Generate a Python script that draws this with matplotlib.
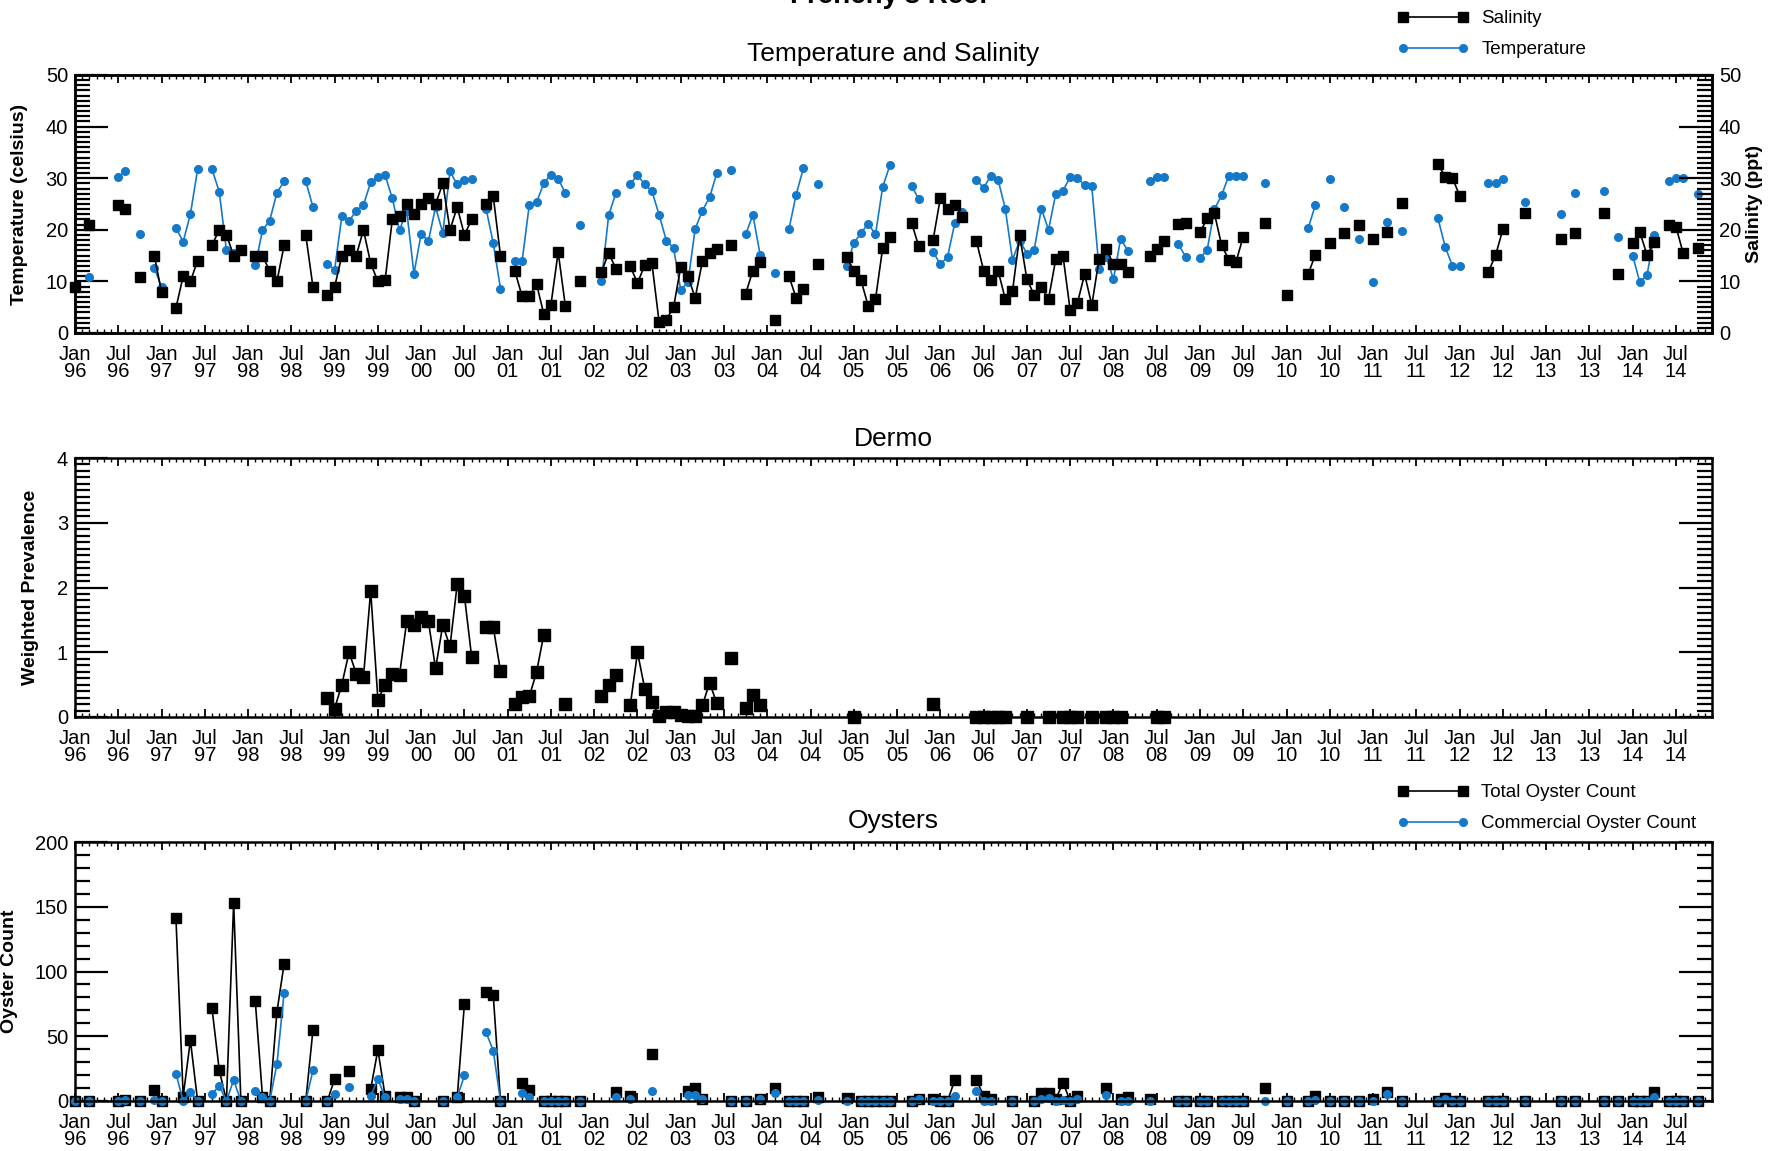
import numpy as np
import matplotlib
matplotlib.use("Agg")
import matplotlib.pyplot as plt
from matplotlib.ticker import FixedLocator, MultipleLocator

plt.rcParams["font.family"] = ["Liberation Sans", "DejaVu Sans"]

BLUE = "#1479c9"

# x values are months since Jan 1996
wq_month = [0, 2, 6, 7, 9, 11, 12, 14, 15, 16, 17, 19, 20, 21, 22, 23, 25, 26, 27, 28, 29,
            32, 33, 35, 36, 37, 38, 39, 40, 41, 42, 43, 44, 45, 46, 47, 48, 49, 50, 51, 52,
            53, 54, 55, 57, 58, 59, 61, 62, 63, 64, 65, 66, 67, 68, 70, 73, 74, 75, 77, 78,
            79, 80, 81, 82, 83, 84, 85, 86, 87, 88, 89, 91, 93, 94, 95, 97, 99, 100, 101, 103,
            107, 108, 109, 110, 111, 112, 113, 116, 117, 119, 120, 121, 122, 123, 125, 126,
            127, 128, 129, 130, 131, 132, 133, 134, 135, 136, 137, 138, 139, 140, 141, 142,
            143, 144, 145, 146, 149, 150, 151, 153, 154, 156, 157, 158, 159, 160, 161, 162,
            165, 168, 171, 172, 174, 176, 178, 180, 182, 184, 189, 190, 191, 192, 196, 197,
            198, 201, 206, 208, 212, 214, 216, 217, 218, 219, 221, 222, 223, 225]
salinity = [8.9, 21, 24.9, 24, 10.8, 15, 7.9, 4.9, 11, 10, 14, 17, 20, 19, 15, 16, 15, 15, 12, 10, 17,
            19, 8.9, 7.3, 8.9, 15, 16, 15, 20, 13.5, 10, 10.2, 22, 22.6, 25, 23, 25, 26.2, 25, 29, 20,
            24.4, 19, 22, 25, 26.5, 15, 12, 7.1, 7.1, 9.5, 3.7, 5.5, 15.7, 5.2, 10, 11.8, 15.5, 12.5, 12.9, 9.7,
            13.1, 13.5, 2.1, 2.6, 5, 12.8, 11, 6.8, 13.9, 15.5, 16.3, 17, 7.6, 12.1, 13.7, 2.5, 11, 6.8, 8.5, 13.4,
            14.7, 12.1, 10.2, 5.2, 6.5, 16.5, 18.6, 21.4, 16.8, 18.1, 26.2, 24, 24.9, 22.5, 17.8, 12.1,
            10.2, 12.1, 6.6, 8.1, 18.9, 10.4, 7.4, 8.9, 6.6, 14.3, 15, 4.4, 5.8, 11.4, 5.4, 14.3,
            16.3, 13.3, 13.3, 11.8, 15, 16.3, 17.9, 21.2, 21.4, 19.5, 22.2, 23.2, 17, 14.2, 13.8, 18.7,
            21.3, 7.4, 11.4, 15.2, 17.4, 19.4, 20.9, 18.2, 19.6, 25.2, 32.7, 30.3, 30.1, 26.6, 11.9, 15.1,
            20.1, 23.2, 18.3, 19.4, 23.2, 11.4, 17.5, 19.5, 15.1, 17.7, 21, 20.6, 15.5, 16.5]
temperature = [np.nan, 10.8, 30.3, 31.3, 19.2, 12.6, 8.9, 20.4, 17.7, 23, 31.7, 31.7, 27.4, 16, 15.5, 16.3,
               13.1, 19.9, 21.8, 27.2, 29.4,
               29.4, 24.4, 13.4, 12.3, 22.6, 21.7, 23.7, 24.8, 29.2, 30.3, 30.6, 26.1, 19.9, 23.7, 11.5,
               19.2, 17.8, 24.4, 19.4, 31.3,
               28.8, 29.7, 29.9, 24.1, 17.4, 8.6, 13.9, 13.9, 24.9, 25.3, 29, 30.7, 29.9, 27.1, 21, 10.1,
               22.8, 27.1, 28.9, 30.6,
               28.8, 27.5, 22.9, 17.9, 16.5, 8.3, 9.9, 20.2, 23.7, 26.3, 31, 31.5, 19.1, 22.9, 15.2, 11.7,
               20.1, 26.8, 31.9, 28.9,
               13, 17.4, 19.4, 21.2, 19.1, 28.3, 32.5, 28.5, 26, 15.7, 13.3, 14.8, 21.3, 23.4, 29.7, 28.1,
               30.5, 29.7, 24.1, 14.2, 17.9, 15.4, 16, 24.1, 20, 27, 27.6, 30.2, 30, 28.7, 28.4, 12.5,
               14.8, 10.4, 18.3, 15.9, 29.5, 30.2, 30.3, 17.2, 14.8, 14.5, 16.1, 24, 26.7, 30.5, 30.4, 30.5,
               29, np.nan, 20.3, 24.8, 29.9, 24.5, 18.3, 9.8, 21.6, 19.8, 22.2, 16.7, 13, 13, 29, 29,
               29.8, 25.4, 23, 27.1, 27.5, 18.6, 15, 9.8, 11.3, 19, 29.4, 30.1, 30, 27]

dermo_month = [35, 36, 37, 38, 39, 40, 41, 42, 43, 44, 45, 46, 47, 48, 49, 50, 51, 52, 53, 54, 55,
               57, 58, 59, 61, 62, 63, 64, 65, 68, 73, 74, 75, 77, 78, 79, 80, 81, 82, 83, 84, 85,
               86, 87, 88, 89, 91, 93, 94, 95, 108, 119, 125, 126, 127, 128, 129, 132, 135, 137,
               138, 139, 141, 143, 144, 145, 150, 151]
dermo_prev = [0.3, 0.13, 0.5, 1.0, 0.67, 0.62, 1.95, 0.27, 0.49, 0.67, 0.65, 1.48, 1.42, 1.55, 1.48,
              0.75, 1.42, 1.09, 2.05, 1.87, 0.93,
              1.39, 1.39, 0.71, 0.2, 0.31, 0.32, 0.69, 1.27, 0.2, 0.33, 0.5, 0.65, 0.18, 1.0, 0.44,
              0.23, 0.02, 0.08, 0.08, 0.03, 0.02,
              0.02, 0.18, 0.53, 0.21, 0.91, 0.14, 0.34, 0.18, 0, 0.2, 0, 0, 0, 0, 0, 0, 0, 0,
              0, 0, 0, 0, 0, 0, 0, 0]

oy_month = [0, 2, 6, 7, 9, 11, 12, 14, 15, 16, 17, 19, 20, 21, 22, 23, 25, 26, 27, 28, 29, 32, 33,
            35, 36, 38, 41, 42, 43, 45, 46, 47, 51, 53, 54, 57, 58, 59, 62, 63, 65, 66, 67, 68, 70,
            75, 77, 80, 85, 86, 87, 91, 93, 95, 97, 99, 100, 101, 103, 107, 109, 110, 111, 112,
            113, 116, 117, 119, 120, 121, 122, 125, 126, 127, 130, 133, 134, 135, 136, 137, 138,
            139, 143, 145, 146, 149, 153, 154, 156, 157, 159, 160, 161, 162, 165, 168, 171, 172,
            174, 176, 178, 180, 182, 184, 189, 190, 191, 192, 196, 197, 198, 201, 206, 208, 212,
            214, 216, 217, 218, 219, 221, 222, 223, 225]
oy_total = [0, 0, 0, 1, 0, 8.5, 0, 141, 3.4, 47, 0, 71.5, 24, 0, 153, 0, 77, 3.4, 0, 68.7, 106, 0, 55,
            0, 17, 23.3, 9, 39.6, 4, 3.4, 2.8, 0, 0, 2.8, 75, 84, 81.6, 0, 14.2, 8.5, 0, 0, 0, 0, 0,
            7.3, 3.9, 36.3, 8, 10.4, 1.3, 0, 0, 1.3, 9.8, 0, 0, 0, 3.4, 2.6, 0, 0, 0, 0,
            0, 0, 1.3, 1.3, 0, 0, 16.3, 16.3, 3.9, 1.3, 0, 0, 6, 6, 1.3, 14.2, 0,
            3.9, 10.4, 1.3, 2.8, 1.3, 0, 0, 0, 0, 0, 0, 0, 0, 9.8, 0, 0, 4.1,
            0, 0, 0, 1.5, 6.7, 0, 0, 2.6, 0, 0, 0, 0, 0, 0, 0, 0, 0,
            0, 0, 0, 0, 7.2, 0, 0, 0, 0]
oy_commercial = [0, 0, 0, 1, 0, 1, 0, 21, 0, 7, 0, 5.4, 11.7, 0, 16.3, 0, 8, 3.4, 0, 28.5, 83.7, 0, 23.6,
                 0, 5.2, 11.1, 3.9, 17, 2.8, 1.3, 1.3, 0, 0, 2.8, 19.7, 53, 38.9, 0, 6.5, 3.4, 0, 0, 0, 0, 0,
                 3.4, 1.3, 8, 4.7, 4.7, 1.3, 0, 0, 1.3, 6, 0, 0, 0, 0.8, 0, 0, 0, 0, 0,
                 0, 0, 1.3, 0, 0, 0, 3.9, 7.8, 0, 0, 0, 0, 1.3, 2.6, 0, 0.8, 0,
                 1.3, 4.7, 0, 0, 0, 0, 0, 0, 0, 0, 0, 0, 0, 0, 0, 0, 0.8,
                 0, 0, 0, 0, 5.1, 0, 0, 1.3, 0, 0, 0, 0, 0, 0, 0, 0, 0,
                 0, 0, 0, 0, 3, 0, 0, 0, 0]


def gapped(months, values, max_gap=1):
    """Insert NaN where consecutive samples are more than one month apart."""
    xs, ys = [], []
    prev = None
    for m, v in zip(months, values):
        if prev is not None and m - prev > max_gap:
            xs.append(np.nan)
            ys.append(np.nan)
        xs.append(m)
        ys.append(v)
        prev = m
    return np.array(xs, float), np.array(ys, float)


tick_months = list(range(0, 223, 6))
tick_labels = [("Jan" if m % 12 == 0 else "Jul") + "\n%02d" % ((96 + m // 12) % 100) for m in tick_months]


def style_axis(ax, ymax, ymajor, yminor, right_ticks=True):
    ax.set_xlim(0, 227)
    ax.set_ylim(0, ymax)
    ax.xaxis.set_major_locator(FixedLocator(tick_months))
    ax.xaxis.set_minor_locator(MultipleLocator(1))
    ax.set_xticklabels(tick_labels, linespacing=0.85)
    ax.yaxis.set_major_locator(MultipleLocator(ymajor))
    ax.yaxis.set_minor_locator(MultipleLocator(yminor))
    ax.tick_params(axis="x", which="both", direction="in", top=True, bottom=True)
    ax.tick_params(axis="x", which="major", length=6, width=1.3, pad=9, labelsize=14.5)
    ax.tick_params(axis="x", which="minor", length=3, width=1.0)
    ax.tick_params(axis="y", which="both", direction="in", left=True, right=right_ticks)
    ax.tick_params(axis="y", which="major", length=24, width=1.6, labelsize=14.5, pad=5)
    ax.tick_params(axis="y", which="minor", length=11, width=1.6)
    for s in ax.spines.values():
        s.set_linewidth(1.8)


fig = plt.figure(figsize=(17.84, 11.51), dpi=100)
fig.text(0.4983, 1 - 3 / 1151, "Frenchy's Reef", ha="center", va="baseline",
         fontsize=20, fontweight="bold")

left, width = 75 / 1784, 1637 / 1784
ax1 = fig.add_axes([left, 1 - 333 / 1151, width, 258 / 1151])
ax2 = fig.add_axes([left, 1 - 717 / 1151, width, 259 / 1151])
ax3 = fig.add_axes([left, 1 - 1101 / 1151, width, 259 / 1151])

# Temperature and salinity
x, y = gapped(wq_month, temperature)
temp_line, = ax1.plot(x, y, color=BLUE, lw=1.2, marker="o", ms=5.5, mec=BLUE, mfc=BLUE, clip_on=False)
style_axis(ax1, 50, 10, 1, right_ticks=False)
ax1.set_ylabel("Temperature (celsius)", fontsize=14, fontweight="bold")
ax1.yaxis.set_label_coords(-0.029, 0.5)
ax1.set_title("Temperature and Salinity", fontsize=19, pad=10)

ax1b = ax1.twinx()
x, y = gapped(wq_month, salinity)
sal_line, = ax1b.plot(x, y, color="black", lw=1.2, marker="s", ms=7.5, mec="black", mfc="black", clip_on=False)
ax1b.set_ylim(0, 50)
ax1b.yaxis.set_major_locator(MultipleLocator(10))
ax1b.yaxis.set_minor_locator(MultipleLocator(1))
ax1b.tick_params(axis="y", which="both", direction="in")
ax1b.tick_params(axis="y", which="major", length=24, width=1.6, labelsize=14.5, pad=5)
ax1b.tick_params(axis="y", which="minor", length=11, width=1.6)
ax1b.set_ylabel("Salinity (ppt)", fontsize=14, fontweight="bold")
ax1b.yaxis.set_label_coords(1.021, 0.5)
for s in ax1b.spines.values():
    s.set_linewidth(1.8)

legend_style = dict(loc="upper left", frameon=False, fontsize=13.5, handlelength=3.8,
                    handletextpad=0.7, labelspacing=0.76, borderpad=0, borderaxespad=0, numpoints=2)
fig.legend(handles=[sal_line, temp_line], labels=["Salinity", "Temperature"],
           bbox_to_anchor=(1397 / 1784, 1 - 10 / 1151), **legend_style)

# Dermo
x, y = gapped(dermo_month, dermo_prev)
ax2.plot(x, y, color="black", lw=1.2, marker="s", ms=8, mec="black", mfc="black", clip_on=False)
style_axis(ax2, 4, 1, 0.1)
ax2.set_ylabel("Weighted Prevalence", fontsize=14, fontweight="bold")
ax2.yaxis.set_label_coords(-0.022, 0.5)
ax2.set_title("Dermo", fontsize=19, pad=9)

# Oysters
x, y = gapped(oy_month, oy_total)
tot_line, = ax3.plot(x, y, color="black", lw=1.2, marker="s", ms=7.5, mec="black", mfc="black", clip_on=False)
x, y = gapped(oy_month, oy_commercial)
com_line, = ax3.plot(x, y, color=BLUE, lw=1.2, marker="o", ms=5.5, mec=BLUE, mfc=BLUE, clip_on=False)
style_axis(ax3, 200, 50, 10)
ax3.set_ylabel("Oyster Count", fontsize=14, fontweight="bold")
ax3.yaxis.set_label_coords(-0.035, 0.5)
ax3.set_title("Oysters", fontsize=19, pad=10)

fig.legend(handles=[tot_line, com_line], labels=["Total Oyster Count", "Commercial Oyster Count"],
           bbox_to_anchor=(1397 / 1784, 1 - 784 / 1151), **legend_style)

fig.savefig("out.png", dpi=100)
plt.close(fig)
